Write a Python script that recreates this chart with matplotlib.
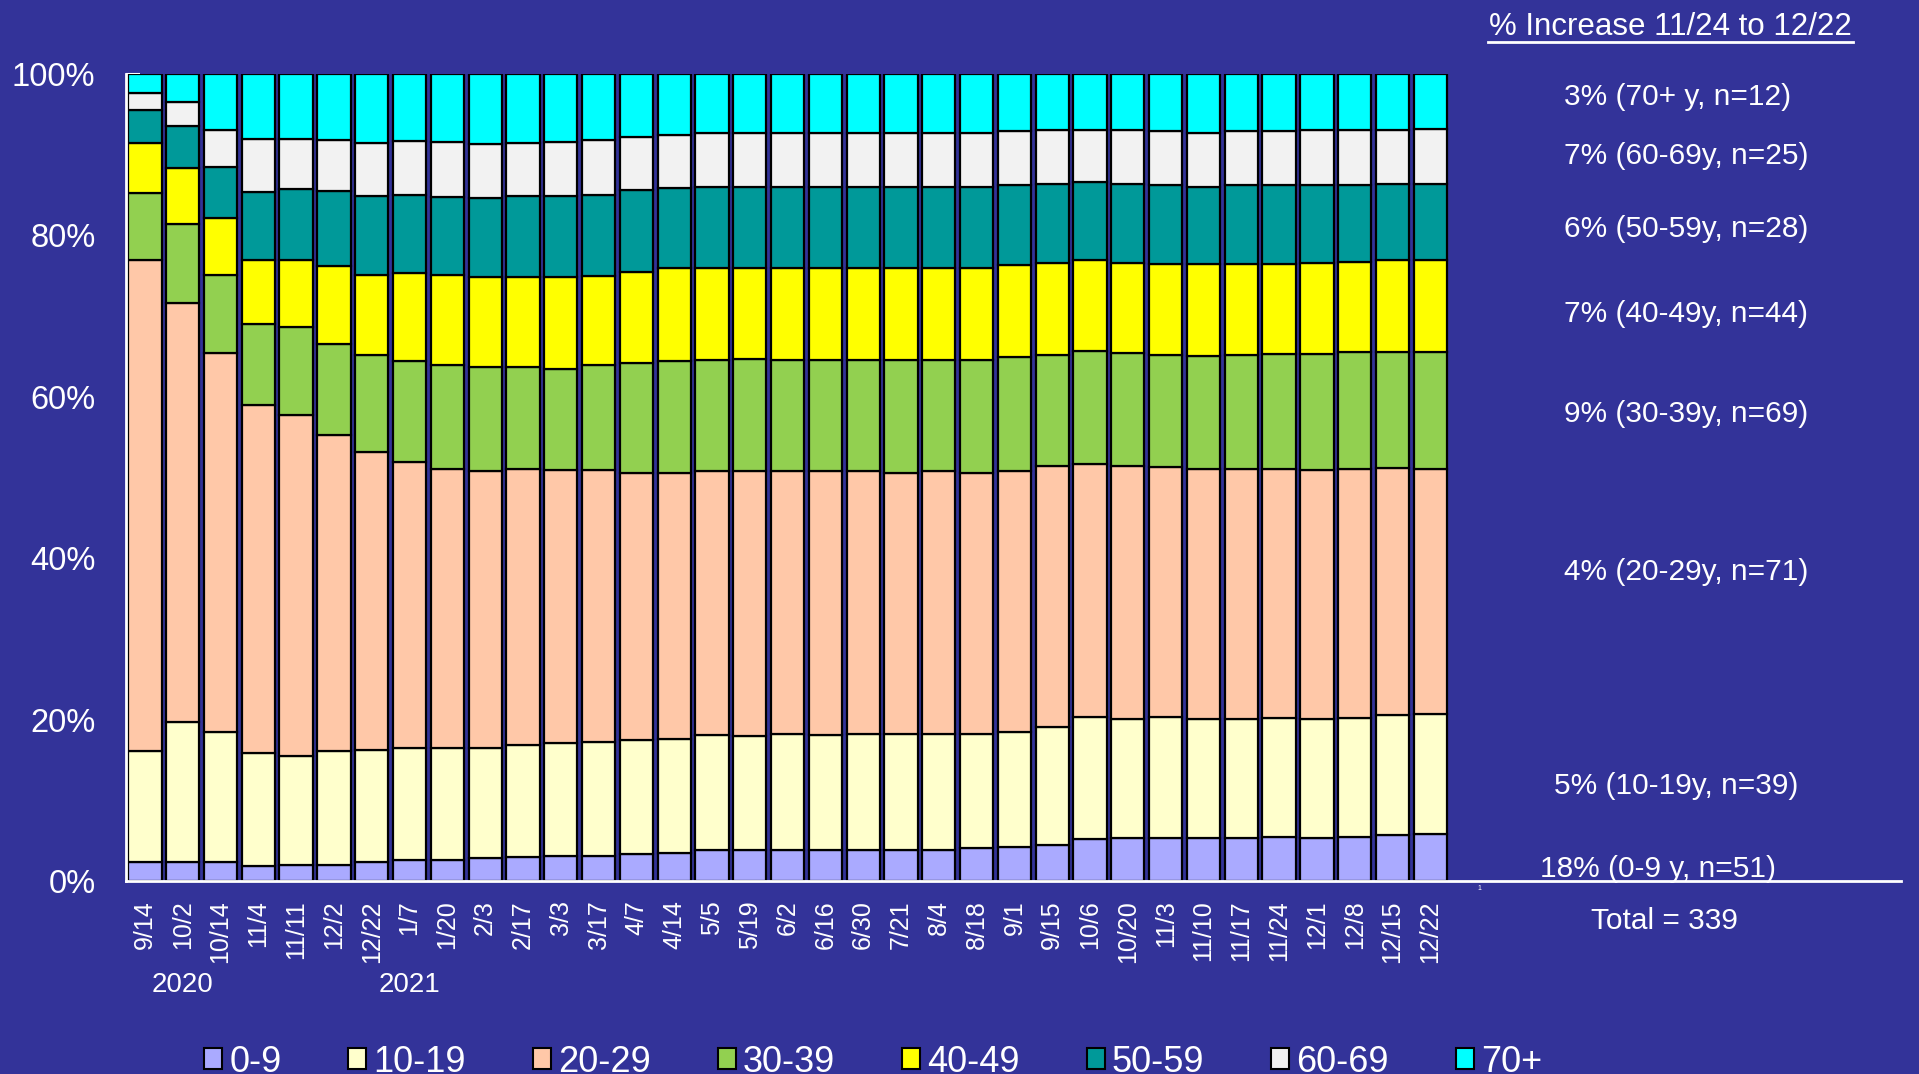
import numpy as np
import matplotlib.pyplot as plt
from matplotlib.patches import Patch
from matplotlib.lines import Line2D
import matplotlib.transforms as mtransforms

plt.rcParams['font.family'] = ['Liberation Sans', 'DejaVu Sans']

# weekly report dates
dates = ['9/14', '10/2', '10/14', '11/4', '11/11', '12/2', '12/22', '1/7', '1/20', '2/3',
         '2/17', '3/3', '3/17', '4/7', '4/14', '5/5', '5/19', '6/2', '6/16', '6/30',
         '7/21', '8/4', '8/18', '9/1', '9/15', '10/6', '10/20', '11/3', '11/10', '11/17',
         '11/24', '12/1', '12/8', '12/15', '12/22']

age_groups = ['0-9', '10-19', '20-29', '30-39', '40-49', '50-59', '60-69', '70+']

# share of cases per age group (%)
a0_9 = [2.4, 2.4, 2.3, 1.9, 2.0, 2.0, 2.4, 2.6, 2.6, 2.8, 3.0, 3.1, 3.1, 3.3, 3.5, 3.9, 3.9, 3.9,
        3.9, 3.9, 3.9, 3.9, 4.1, 4.2, 4.5, 5.2, 5.3, 5.3, 5.3, 5.3, 5.4, 5.3, 5.5, 5.7, 5.8]
a10_19 = [13.7, 17.3, 16.2, 14.0, 13.5, 14.1, 13.8, 13.9, 13.9, 13.7, 13.9, 14.0, 14.1, 14.2, 14.1,
          14.2, 14.1, 14.3, 14.2, 14.3, 14.3, 14.3, 14.1, 14.3, 14.6, 15.1, 14.8, 15.0, 14.8, 14.8,
          14.8, 14.8, 14.7, 14.9, 14.9]
a20_29 = [60.8, 51.9, 46.9, 43.1, 42.3, 39.2, 37.0, 35.4, 34.6, 34.3, 34.1, 33.8, 33.7, 33.1, 33.0,
          32.7, 32.8, 32.6, 32.7, 32.6, 32.4, 32.6, 32.4, 32.3, 32.3, 31.4, 31.3, 31.0, 31.0, 31.0,
          30.9, 30.8, 30.8, 30.6, 30.3]
a30_39 = [8.3, 9.8, 9.7, 10.0, 10.8, 11.2, 12.0, 12.5, 12.8, 12.9, 12.7, 12.6, 13.0, 13.6, 13.8,
          13.7, 13.9, 13.7, 13.7, 13.7, 13.9, 13.7, 13.9, 14.1, 13.8, 14.0, 14.0, 13.9, 13.9, 14.1,
          14.2, 14.4, 14.6, 14.4, 14.5]
a40_49 = [6.2, 7.0, 7.0, 7.9, 8.4, 9.7, 9.9, 11.0, 11.2, 11.2, 11.2, 11.3, 11.1, 11.3, 11.5,
          11.4, 11.2, 11.4, 11.4, 11.4, 11.4, 11.4, 11.4, 11.4, 11.4, 11.2, 11.2, 11.3, 11.4, 11.3,
          11.2, 11.3, 11.1, 11.3, 11.4]
a50_59 = [4.2, 5.2, 6.4, 8.5, 8.8, 9.3, 9.8, 9.6, 9.7, 9.7, 10.0, 10.1, 10.0, 10.1, 10.0,
          10.1, 10.1, 10.1, 10.1, 10.1, 10.1, 10.1, 10.1, 10.0, 9.8, 9.7, 9.8, 9.7, 9.6, 9.7,
          9.7, 9.7, 9.6, 9.5, 9.5]
a60_69 = [2.1, 2.9, 4.6, 6.6, 6.2, 6.3, 6.6, 6.7, 6.8, 6.7, 6.6, 6.7, 6.8, 6.6, 6.6,
          6.7, 6.7, 6.7, 6.7, 6.7, 6.7, 6.7, 6.7, 6.6, 6.6, 6.5, 6.6, 6.7, 6.7, 6.7,
          6.7, 6.7, 6.7, 6.7, 6.8]
a70p = [2.3, 3.5, 6.9, 8.0, 8.0, 8.2, 8.5, 8.3, 8.4, 8.7, 8.5, 8.4, 8.2, 7.8, 7.5,
        7.3, 7.3, 7.3, 7.3, 7.3, 7.3, 7.3, 7.3, 7.1, 7.0, 6.9, 7.0, 7.1, 7.3, 7.1,
        7.1, 7.0, 7.0, 6.9, 6.8]

increase_labels = ['18% (0-9 y, n=51)', '5% (10-19y, n=39)', '4% (20-29y, n=71)',
                   '9% (30-39y, n=69)', '7% (40-49y, n=44)', '6% (50-59y, n=28)',
                   '7% (60-69y, n=25)', '3% (70+ y, n=12)']
total_n = 339

bg = '#333399'
colors = ['#AAAAFF', '#FFFFCC', '#FFC8A8', '#92D050', '#FFFF00', '#009999', '#F2F2F2', '#00FFFF']

W, H = 1919, 1074
fig = plt.figure(figsize=(W / 100, H / 100), dpi=100, facecolor=bg)
ax = fig.add_axes([126 / W, 1 - 881 / H, (1901 - 126) / W, (881 - 74) / H])
ax.set_facecolor(bg)

series = np.array([a0_9, a10_19, a20_29, a30_39, a40_49, a50_59, a60_69, a70p])
series = series / series.sum(axis=0) * 100
x = np.arange(len(dates))
bottom = np.zeros(len(dates))
for vals, col in zip(series, colors):
    ax.bar(x, vals, 0.88, bottom=bottom, color=col, edgecolor='black', linewidth=1.6, zorder=2)
    bottom += vals

ax.set_xlim(-0.5, 46.45)
ax.set_ylim(0, 100)
ax.set_yticks([0, 20, 40, 60, 80, 100])
ax.set_yticklabels([f'{v}%' for v in [0, 20, 40, 60, 80, 100]])
ax.tick_params(axis='y', direction='in', length=10, width=1.5, colors='white',
               labelsize=23.5, pad=22)
ax.set_xticks(x)
ax.set_xticklabels(dates, rotation=90, fontsize=18, color='white')
ax.tick_params(axis='x', length=0, pad=14)
for s in ['top', 'right']:
    ax.spines[s].set_visible(False)
for s in ['left', 'bottom']:
    ax.spines[s].set_color('white')
    ax.spines[s].set_linewidth(2)
    ax.spines[s].set_zorder(3)

# year labels under the dates
trans = mtransforms.blended_transform_factory(ax.transData, fig.transFigure)
ax.text(1, 1 - 985 / H, '2020', transform=trans, ha='center', va='center', color='white', fontsize=20)
ax.text(7, 1 - 985 / H, '2021', transform=trans, ha='center', va='center', color='white', fontsize=20)
ax.text(35.3, 1 - 889 / H, '1', transform=trans, ha='center', va='center', color='white', fontsize=5)

# right side notes
fig.text(1670 / W, 1 - 27 / H, '% Increase 11/24 to 12/22', ha='center', va='center',
         color='white', fontsize=22.5)
fig.add_artist(Line2D([1488 / W, 1853 / W], [1 - 42 / H, 1 - 42 / H], color='white', lw=2))
note_x = [1540, 1554, 1564, 1564, 1564, 1564, 1564, 1564]
note_y = [869, 786, 572, 414, 314, 229, 156, 97]
for lab, nx, ny in zip(increase_labels, note_x, note_y):
    fig.text(nx / W, 1 - ny / H, lab, ha='left', va='center', color='white', fontsize=21.5)
fig.text(1664 / W, 1 - 921 / H, f'Total = {total_n}', ha='center', va='center',
         color='white', fontsize=21.5)

handles = [Patch(facecolor=c, edgecolor='black', linewidth=1.5) for c in colors]
fig.legend(handles, age_groups, loc='center', bbox_to_anchor=(0.455, 1 - 1062 / H), ncol=8,
           frameon=False, fontsize=26, labelcolor='white', handlelength=0.5, handleheight=0.5,
           handletextpad=0.2, columnspacing=1.85)

fig.savefig('out.png', dpi=100, facecolor=bg)
